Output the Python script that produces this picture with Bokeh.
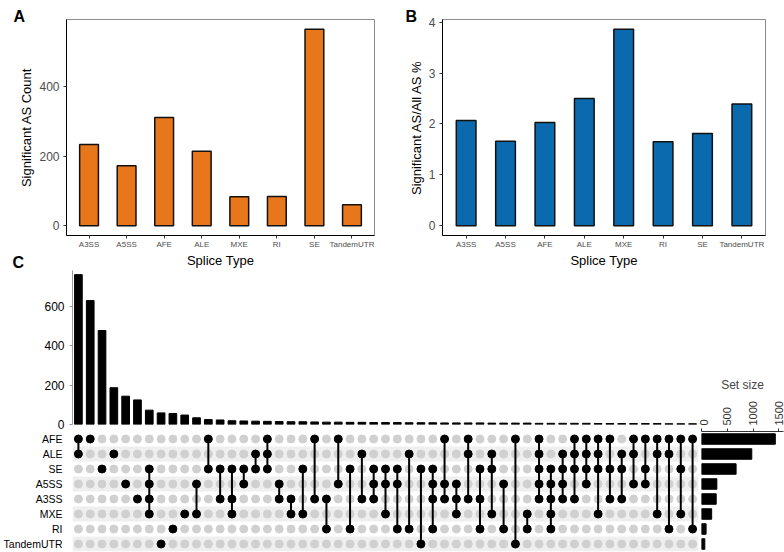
from bokeh.plotting import figure
from bokeh.models import FactorRange, Range1d, FixedTicker, Label
from bokeh.layouts import row, column
from bokeh.embed import file_html
from bokeh.resources import INLINE

FONT = "Liberation Sans"

# ---------------- data ----------------
splice_types = ["A3SS", "A5SS", "AFE", "ALE", "MXE", "RI", "SE", "TandemUTR"]
sig_count = [233, 172, 311, 214, 83, 84, 564, 60]
sig_pct = [2.07, 1.66, 2.03, 2.50, 3.86, 1.65, 1.81, 2.39]

set_names = ["AFE", "ALE", "SE", "A5SS", "A3SS", "MXE", "RI", "TandemUTR"]
set_sizes = [1431, 975, 671, 298, 285, 197, 89, 64]

intersections = [
    ["AFE", "ALE"], ["AFE"], ["SE"], ["ALE"], ["A5SS"], ["A3SS"],
    ["SE", "A5SS", "A3SS", "MXE"], ["TandemUTR"], ["RI"], ["MXE"],
    ["A5SS", "MXE"], ["AFE", "SE"], ["SE", "A3SS"], ["SE", "A3SS", "MXE"],
    ["SE", "A5SS"], ["ALE", "SE"], ["AFE", "ALE", "SE"], ["A5SS", "A3SS"],
    ["A3SS", "MXE"], ["SE", "MXE"], ["AFE", "A3SS"], ["A3SS", "RI"],
    ["AFE", "A5SS"], ["SE", "RI"], ["ALE", "A3SS"], ["SE", "A5SS", "A3SS"],
    ["SE", "A5SS", "MXE"], ["SE", "A5SS", "RI"], ["ALE", "RI"],
    ["SE", "TandemUTR"], ["SE", "A5SS", "A3SS", "RI"], ["AFE", "A5SS", "A3SS"],
    ["A5SS", "A3SS", "MXE"], ["AFE", "ALE", "A3SS"], ["SE", "A3SS", "RI"],
    ["ALE", "SE", "MXE"], ["A5SS", "RI"], ["AFE", "TandemUTR"], ["MXE", "RI"],
    ["AFE", "ALE", "SE", "A5SS", "A3SS"], ["SE", "A5SS", "A3SS", "MXE", "RI"],
    ["ALE", "SE", "A5SS", "A3SS"], ["AFE", "ALE", "SE", "A3SS"],
    ["AFE", "ALE", "SE", "A5SS"], ["AFE", "ALE", "SE", "MXE"],
    ["AFE", "SE", "A3SS"], ["ALE", "SE", "A3SS"], ["AFE", "ALE", "A5SS"],
    ["AFE", "SE", "A5SS"], ["AFE", "ALE", "MXE"], ["AFE", "ALE", "RI"],
    ["AFE", "SE", "MXE"], ["AFE", "RI"],
]
inter_sizes = [762, 630, 478, 187, 144, 125, 73, 59, 56, 48, 34, 25, 23,
               19, 18, 17, 16, 15, 14, 14, 13, 12, 12,
               11, 11, 10, 10, 10, 9, 9, 9, 8, 8,
               8, 8, 7, 7, 7, 7, 6, 6, 6, 6,
               6, 5, 5, 5, 5, 5, 5, 4, 4, 4]

ORANGE = "#E8761A"
BLUE = "#0A6AAD"


def letter(p, txt, x, y, place):
    p.add_layout(Label(x=x, y=y, x_units="canvas", y_units="canvas", text=txt,
                       text_font=FONT, text_font_style="bold",
                       text_font_size="16px", text_align="left",
                       text_baseline="middle", text_color="black"), place)


def style_axes(p):
    for ax in (p.xaxis[0], p.yaxis[0]):
        ax.axis_line_color = "black"
        ax.axis_line_width = 1
        ax.major_tick_line_color = "#333333"
        ax.major_tick_in = 0
        ax.major_tick_out = 3
        ax.minor_tick_line_color = None
        ax.major_label_text_font = FONT
        ax.major_label_text_color = "#4D4D4D"
        ax.axis_label_text_font = FONT
        ax.axis_label_text_font_style = "normal"
        ax.axis_label_text_font_size = "13px"
        ax.axis_label_text_color = "black"
    p.xaxis.major_label_text_font_size = "8px"
    p.yaxis.major_label_text_font_size = "12px"
    p.xaxis.major_label_standoff = 1
    p.xaxis.axis_label_standoff = 1
    p.yaxis.major_label_standoff = 4
    p.yaxis.axis_label_standoff = 2
    p.xgrid.visible = False
    p.ygrid.visible = False
    p.outline_line_color = "#8C8C8C"
    p.outline_line_width = 1


def bar_panel(values, color, ylabel, yrange, ticks, left, right):
    p = figure(width=392, height=270,
               x_range=FactorRange(factors=splice_types, range_padding=0.1,
                                   range_padding_units="absolute"),
               y_range=Range1d(*yrange),
               output_backend="svg", toolbar_location=None,
               min_border_left=left, min_border_right=right,
               min_border_top=19, min_border_bottom=35)
    p.vbar(x=splice_types, top=values, width=0.5, fill_color=color,
           line_color="#111111", line_width=1.5)
    p.xaxis.axis_label = "Splice Type"
    p.yaxis.axis_label = ylabel
    p.yaxis.ticker = FixedTicker(ticks=ticks)
    style_axes(p)
    return p


pA = bar_panel(sig_count, ORANGE, "Significant AS Count", (-28.2, 592.2),
               [0, 200, 400], 66, 18)
pB = bar_panel(sig_pct, BLUE, "Significant AS/All AS %", (-0.193, 4.053),
               [0, 1, 2, 3, 4], 50, 19)

letter(pA, "A", 13, 16, "above")
letter(pB, "B", 13, 16, "above")
letter(pA, "C", 12, 262, "left")

# ---------------- UpSet: intersection bars ----------------
cols = list(range(1, len(intersections) + 1))
XR = (0.5, len(intersections) + 0.5)

pTop = figure(width=699, height=161, x_range=Range1d(*XR), y_range=Range1d(0, 783),
              output_backend="svg", toolbar_location=None,
              min_border_left=67, min_border_right=1, min_border_top=0,
              min_border_bottom=7)
pTop.vbar(x=cols, top=inter_sizes, width=0.65, color="black")
pTop.xaxis.visible = False
pTop.xgrid.visible = False
pTop.ygrid.visible = False
pTop.outline_line_color = None
pTop.yaxis.ticker = FixedTicker(ticks=[0, 200, 400, 600])
pTop.yaxis.axis_line_color = "#9A9A9A"
pTop.yaxis.major_tick_line_color = "#9A9A9A"
pTop.yaxis.major_tick_in = 0
pTop.yaxis.major_tick_out = 3
pTop.yaxis.minor_tick_line_color = None
pTop.yaxis.major_label_text_font = FONT
pTop.yaxis.major_label_text_font_size = "12px"
pTop.yaxis.major_label_text_color = "black"
pTop.yaxis.major_label_standoff = 5

# ---------------- UpSet: matrix ----------------
pMat = figure(width=699, height=121, x_range=Range1d(*XR),
              y_range=FactorRange(factors=set_names[::-1]),
              output_backend="svg", toolbar_location=None,
              min_border_left=67, min_border_right=1, min_border_top=0,
              min_border_bottom=1)
shaded = [s for i, s in enumerate(set_names) if i % 2 == 1]
pMat.hbar(y=shaded, left=XR[0], right=XR[1], height=1.0,
          color="#EFEFEF", line_color=None)

gx, gy, bx, by = [], [], [], []
sx0, sy0, sx1, sy1 = [], [], [], []
for c, members in zip(cols, intersections):
    for s in set_names:
        if s in members:
            bx.append(c); by.append(s)
        else:
            gx.append(c); gy.append(s)
    if len(members) > 1:
        idx = sorted(set_names.index(m) for m in members)
        sx0.append(c); sy0.append(set_names[idx[0]])
        sx1.append(c); sy1.append(set_names[idx[-1]])

pMat.scatter(x=gx, y=gy, size=8, color="#D0D0D0")
pMat.segment(x0=sx0, y0=sy0, x1=sx1, y1=sy1, line_color="black", line_width=2)
pMat.scatter(x=bx, y=by, size=8, color="black")
pMat.xaxis.visible = False
pMat.xgrid.visible = False
pMat.ygrid.visible = False
pMat.outline_line_color = None
pMat.yaxis.axis_line_color = None
pMat.yaxis.major_tick_line_color = None
pMat.yaxis.minor_tick_line_color = None
pMat.yaxis.major_label_text_font = FONT
pMat.yaxis.major_label_text_font_size = "10.5px"
pMat.yaxis.major_label_text_color = "black"
pMat.yaxis.major_label_standoff = 4

# ---------------- UpSet: set sizes ----------------
pSet = figure(width=85, height=282, x_range=Range1d(0, 1590),
              y_range=FactorRange(factors=set_names[::-1]),
              x_axis_location="above",
              output_backend="svg", toolbar_location=None,
              min_border_left=2, min_border_right=1, min_border_top=161,
              min_border_bottom=1)
pSet.hbar(y=set_names, right=set_sizes, left=0, height=0.7, color="black")
pSet.yaxis.visible = False
pSet.xgrid.visible = False
pSet.ygrid.visible = False
pSet.outline_line_color = None
pSet.xaxis.ticker = FixedTicker(ticks=[0, 500, 1000, 1500])
pSet.xaxis.axis_label = "Set size"
pSet.xaxis.axis_label_text_font = FONT
pSet.xaxis.axis_label_text_font_style = "normal"
pSet.xaxis.axis_label_text_font_size = "12px"
pSet.xaxis.axis_label_standoff = 6
pSet.xaxis.major_label_orientation = "vertical"
pSet.xaxis.major_label_text_font = FONT
pSet.xaxis.major_label_text_font_size = "11px"
pSet.xaxis.major_label_text_color = "#333333"
pSet.xaxis.major_label_standoff = 3
pSet.xaxis.axis_line_color = "#333333"
pSet.xaxis.major_tick_line_color = "#333333"
pSet.xaxis.major_tick_in = 0
pSet.xaxis.major_tick_out = 3
pSet.xaxis.minor_tick_line_color = None

layout = column(row(pA, pB), row(column(pTop, pMat), pSet))

open("out.html", "w").write(file_html(layout, INLINE))
